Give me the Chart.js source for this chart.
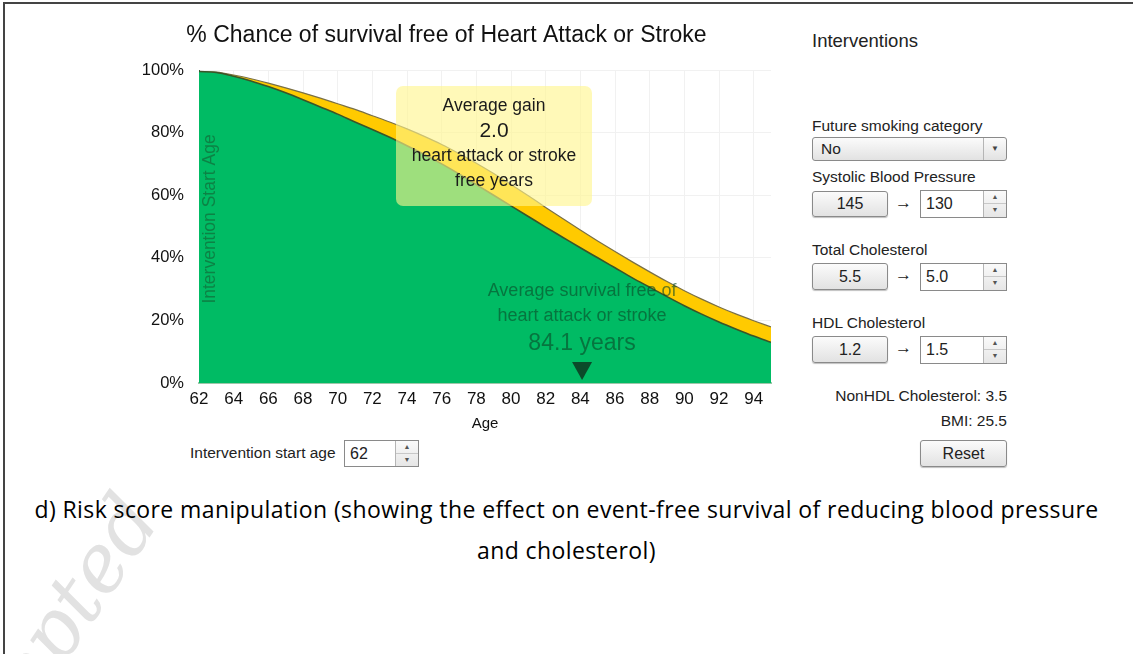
<!DOCTYPE html>
<html>
<head>
<meta charset="utf-8">
<script src="https://cdn.jsdelivr.net/npm/chart.js@4.4.1/dist/chart.umd.min.js"></script>
<style>
  body { margin: 0; width: 1133px; height: 654px; overflow: hidden; background: #fff;
         font-family: "Liberation Sans", Arial, sans-serif; color: #222; position: relative; }
  .frame-top { position: absolute; left: 3px; top: 2px; width: 1130px; height: 2px; background: #444; }
  .frame-left { position: absolute; left: 3px; top: 2px; width: 2px; height: 652px; background: #444; }
  #chartBox { position: absolute; left: 122px; top: 0; }
  .abs { position: absolute; white-space: nowrap; }
  .lbl { font-size: 15.5px; line-height: 18px; }
  .btn { position: absolute; box-sizing: border-box; border: 1px solid #8a8a8a; border-radius: 3px;
         background: linear-gradient(#fbfbfb, #e2e2e2); font-size: 16px; text-align: center;
         box-shadow: 0 1px 1px rgba(0,0,0,0.25); }
  .spin { position: absolute; box-sizing: border-box; border: 1px solid #8a8a8a; background: #fff;
          font-size: 16px; padding-left: 5px; }
  .spin .arrows { position: absolute; right: 0; top: 0; bottom: 0; width: 22px; border-left: 1px solid #b5b5b5;
                  background: linear-gradient(#fafafa, #e6e6e6); font-size: 7px; color: #555; text-align: center; line-height: 12px; }
  .spin .arrows div { height: 50%; box-sizing: border-box; }
  .spin .arrows div:first-child { border-bottom: 1px solid #c8c8c8; }
  .sel { position: absolute; box-sizing: border-box; border: 1px solid #8a8a8a; border-radius: 3px;
         background: linear-gradient(#fbfbfb, #e2e2e2); font-size: 15.5px; padding-left: 8px; }
  .sel .dd { position: absolute; right: 0; top: 0; bottom: 0; width: 22px; border-left: 1px solid #b5b5b5;
             font-size: 8px; color: #444; text-align: center; }
  .caption { position: absolute; left: 0; width: 1133px; text-align: center; font-family: "Open Sans", sans-serif;
             font-size: 23px; letter-spacing: 0.4px; line-height: 32px; color: #000; }
  .wm { position: absolute; font-family: "DejaVu Serif", serif; font-style: italic; font-size: 80px; color: #e2e2e2;
        transform-origin: 0 0; transform: rotate(-56deg); }
</style>
</head>
<body>
<div class="wm" style="left:-110px; top:790px;">Accepted</div>
<div class="frame-top"></div>
<div class="frame-left"></div>

<div id="chartBox"><canvas id="survivalChart" width="672" height="433"></canvas></div>

<!-- intervention start age -->
<div class="abs lbl" style="left:190px; top:444px;">Intervention start age</div>
<div class="spin" style="left:344px; top:440px; width:75px; height:27px; line-height:25px;">62
  <div class="arrows"><div>&#9650;</div><div>&#9660;</div></div></div>

<!-- interventions panel -->
<div class="abs" style="left:812px; top:30px; font-size:18.5px; line-height:22px;">Interventions</div>

<div class="abs lbl" style="left:812px; top:117px;">Future smoking category</div>
<div class="sel" style="left:812px; top:137px; width:195px; height:24px; line-height:22px;">No
  <div class="dd" style="line-height:22px;">&#9660;</div></div>

<div class="abs lbl" style="left:812px; top:168px;">Systolic Blood Pressure</div>
<div class="btn" style="left:812px; top:191px; width:76px; height:26px; line-height:24px;">145</div>
<div class="abs" style="left:895px; top:193px; font-size:17px;">&rarr;</div>
<div class="spin" style="left:920px; top:190px; width:87px; height:28px; line-height:26px;">130
  <div class="arrows"><div>&#9650;</div><div>&#9660;</div></div></div>

<div class="abs lbl" style="left:812px; top:241px;">Total Cholesterol</div>
<div class="btn" style="left:812px; top:263px; width:76px; height:27px; line-height:25px;">5.5</div>
<div class="abs" style="left:895px; top:265px; font-size:17px;">&rarr;</div>
<div class="spin" style="left:920px; top:263px; width:87px; height:28px; line-height:26px;">5.0
  <div class="arrows"><div>&#9650;</div><div>&#9660;</div></div></div>

<div class="abs lbl" style="left:812px; top:314px;">HDL Cholesterol</div>
<div class="btn" style="left:812px; top:336px; width:76px; height:27px; line-height:25px;">1.2</div>
<div class="abs" style="left:895px; top:338px; font-size:17px;">&rarr;</div>
<div class="spin" style="left:920px; top:336px; width:87px; height:28px; line-height:26px;">1.5
  <div class="arrows"><div>&#9650;</div><div>&#9660;</div></div></div>

<div class="abs lbl" style="right:126px; top:387px;">NonHDL Cholesterol: 3.5</div>
<div class="abs lbl" style="right:126px; top:412px;">BMI: 25.5</div>
<div class="btn" style="left:920px; top:440px; width:87px; height:27px; line-height:25px;">Reset</div>

<div class="caption" style="top:493px;">d) Risk score manipulation (showing the effect on event-free survival of reducing blood pressure</div>
<div class="caption" style="top:534px;">and cholesterol)</div>

<script>
// ages along the x axis (years)
const ages = [62, 63, 64, 65, 66, 67, 68, 69, 70, 71, 72, 73, 74, 75, 76, 77, 78,
              79, 80, 81, 82, 83, 84, 85, 86, 87, 88, 89, 90, 91, 92, 93, 94, 95];

// % survival free of heart attack / stroke, current risk factors
const baseline = [99.5, 99.2, 98.0, 96.5, 94.7, 92.7, 90.5, 88.2, 85.9, 83.4, 81.0, 78.5,
                  75.8, 73.0, 70.0, 66.8, 63.4, 60.0, 56.6, 53.2, 49.8, 46.5, 43.2, 40.0,
                  36.8, 33.6, 30.6, 27.6, 24.7, 22.0, 19.5, 17.2, 15.0, 13.0];

// % survival with the interventions applied
const intervention = [99.5, 99.3, 98.4, 97.2, 95.8, 94.3, 92.7, 91.0, 89.2, 87.4, 85.4, 83.4,
                      81.2, 78.8, 76.2, 73.3, 70.2, 66.9, 63.4, 59.8, 56.1, 52.5, 48.9, 45.4,
                      42.0, 38.7, 35.5, 32.4, 29.5, 26.8, 24.3, 22.0, 19.9, 17.9];

const xTicks = [62, 64, 66, 68, 70, 72, 74, 76, 78, 80, 82, 84, 86, 88, 90, 92, 94];
const yTicks = [0, 20, 40, 60, 80, 100];

const startAge = 62;
const avgSurvivalAge = 84.1;
const avgGain = 2.0;

const FONT = '"Liberation Sans", Arial, sans-serif';
const toPoints = vals => vals.map((v, i) => ({ x: ages[i], y: v }));

// textos y marcas sobre el área del gráfico
const overlayPlugin = {
  id: 'overlay',
  afterDatasetsDraw(chart) {
    const { ctx, chartArea: a, scales: { x } } = chart;
    const font = size => size + 'px ' + FONT;
    ctx.save();

    // intervention start age label
    ctx.translate(x.getPixelForValue(startAge) + 11, a.top + (a.bottom - a.top) * 0.476);
    ctx.rotate(-Math.PI / 2);
    ctx.font = font(17.5);
    ctx.fillStyle = 'rgba(20, 95, 50, 0.62)';
    ctx.textAlign = 'center';
    ctx.textBaseline = 'middle';
    ctx.fillText('Intervention Start Age', 0, 0);
    ctx.setTransform(1, 0, 0, 1, 0, 0);

    // average gain box
    const bx = a.left + 197, by = a.top + 16, bw = 196, bh = 120;
    ctx.fillStyle = 'rgba(255, 246, 140, 0.62)';
    ctx.beginPath();
    ctx.roundRect(bx, by, bw, bh, 7);
    ctx.fill();
    const cx = bx + bw / 2;
    ctx.fillStyle = '#1a1a1a';
    ctx.textAlign = 'center';
    ctx.textBaseline = 'middle';
    ctx.font = font(17.5);
    ctx.fillText('Average gain', cx, by + 20);
    ctx.font = font(21);
    ctx.fillText(avgGain.toFixed(1), cx, by + 45);
    ctx.font = font(17.5);
    ctx.fillText('heart attack or stroke', cx, by + 70);
    ctx.fillText('free years', cx, by + 95);

    // average survival text + marker
    const sx = x.getPixelForValue(avgSurvivalAge);
    ctx.fillStyle = 'rgba(10, 75, 40, 0.62)';
    ctx.font = font(18);
    ctx.fillText('Average survival free of', sx, a.bottom - 92);
    ctx.fillText('heart attack or stroke', sx, a.bottom - 67);
    ctx.font = font(23);
    ctx.fillText(avgSurvivalAge.toFixed(1) + ' years', sx, a.bottom - 39);
    ctx.fillStyle = '#0b4a2a';
    ctx.beginPath();
    ctx.moveTo(sx - 10, a.bottom - 21);
    ctx.lineTo(sx + 10, a.bottom - 21);
    ctx.lineTo(sx, a.bottom - 3);
    ctx.closePath();
    ctx.fill();
    ctx.restore();
  }
};

const ctx = document.getElementById('survivalChart').getContext('2d');
new Chart(ctx, {
  type: 'line',
  data: {
    datasets: [
      {
        label: 'Current',
        data: toPoints(baseline),
        fill: 'origin',
        backgroundColor: 'rgb(0, 187, 100)',
        borderColor: '#3a5529',
        borderWidth: 1.6,
        pointRadius: 0,
        cubicInterpolationMode: 'monotone'
      },
      {
        label: 'With interventions',
        data: toPoints(intervention),
        fill: 'origin',
        backgroundColor: 'rgb(255, 202, 0)',
        borderColor: '#7a7045',
        borderWidth: 1.2,
        pointRadius: 0,
        cubicInterpolationMode: 'monotone'
      },
      {
        label: 'Intervention start',
        data: [{ x: startAge, y: 0 }, { x: startAge, y: 100 }],
        borderColor: '#2f6b45',
        borderWidth: 2,
        pointRadius: 0,
        fill: false
      }
    ]
  },
  options: {
    responsive: false,
    animation: false,
    layout: { padding: { left: 0, right: 23, top: 0, bottom: 0 } },
    plugins: {
      legend: { display: false },
      tooltip: { enabled: false },
      title: {
        display: true,
        text: '% Chance of survival free of Heart Attack or Stroke',
        color: '#111',
        font: { family: FONT, size: 23, weight: 'normal' },
        padding: { top: 22, bottom: 20.4 }
      }
    },
    scales: {
      x: {
        type: 'linear',
        min: 62,
        max: 95,
        afterBuildTicks: scale => { scale.ticks = xTicks.map(v => ({ value: v })); },
        ticks: { color: '#111', font: { family: FONT, size: 17 }, padding: 6, maxRotation: 0, autoSkip: false },
        grid: { color: '#f1f1f1', drawTicks: false },
        border: { color: '#9cc7a9', width: 2 },
        title: { display: true, text: 'Age', color: '#111', font: { family: FONT, size: 15 }, padding: { top: 2, bottom: 0 } },
        afterFit: scale => { scale.height = 50; }
      },
      y: {
        min: 0,
        max: 100,
        afterBuildTicks: scale => { scale.ticks = yTicks.map(v => ({ value: v })); },
        ticks: { color: '#111', font: { family: FONT, size: 16.5 }, padding: 15, callback: v => v + '%' },
        grid: { color: '#f1f1f1', drawTicks: false },
        border: { display: false },
        afterFit: scale => { scale.width = 77; }
      }
    }
  },
  plugins: [overlayPlugin]
});
</script>
</body>
</html>
